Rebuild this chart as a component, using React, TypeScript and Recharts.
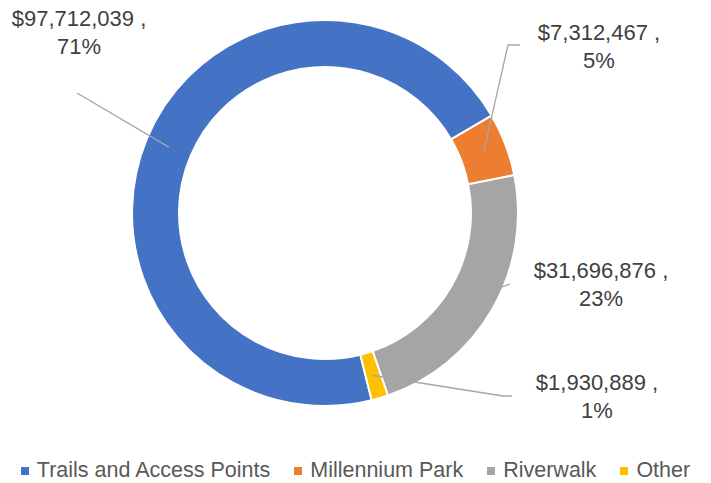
import React from "react";
import { PieChart, Pie, Cell, Legend } from "recharts";

document.body.style.margin = "0";

// Spending by project area
const categories = ["Trails and Access Points", "Millennium Park", "Riverwalk", "Other"];
const amounts = [97712039, 7312467, 31696876, 1930889];
const percentLabels = ["71%", "5%", "23%", "1%"];
const colors = ["#4472C4", "#ED7D31", "#A5A5A5", "#FFC000"];

const data = categories.map((name, i) => ({ name, value: amounts[i] }));

// where each data label sits, and the elbow of its leader line
const LABEL_POS = [
  { x: 79, y: 26, line: [[77, 93]] },
  { x: 599, y: 40, line: [[520, 45], [508, 45]] },
  { x: 601, y: 278, line: [[510, 284]] },
  { x: 597, y: 390, line: [[512, 396], [503, 396]] },
];

const RAD = Math.PI / 180;
const FONT = "'Liberation Sans', Arial, sans-serif";

const fmt = (v: number) => "$" + v.toLocaleString("en-US");

const renderLabel = (props: any) => {
  const { cx, cy, midAngle, innerRadius, outerRadius, index } = props;
  const pos = LABEL_POS[index];
  const r = (innerRadius + outerRadius) / 2;
  const ex = cx + r * Math.cos(-midAngle * RAD);
  const ey = cy + r * Math.sin(-midAngle * RAD);
  const pts = [...pos.line, [ex, ey]].map((p) => p.join(",")).join(" ");
  return (
    <g key={"lbl" + index}>
      <polyline points={pts} fill="none" stroke="#A6A6A6" strokeWidth={1.3} />
      <text x={pos.x} y={pos.y} textAnchor="middle" fill="#404040" fontSize={22} fontFamily={FONT}>
        {fmt(amounts[index]) + " ,"}
      </text>
      <text x={pos.x} y={pos.y + 28} textAnchor="middle" fill="#404040" fontSize={22} fontFamily={FONT}>
        {percentLabels[index]}
      </text>
    </g>
  );
};

const renderLegend = () => (
  <div
    style={{
      display: "flex",
      justifyContent: "center",
      alignItems: "center",
      fontFamily: FONT,
      fontSize: 21.5,
      color: "#595959",
    }}
  >
    {categories.map((c, i) => (
      <div key={c} style={{ display: "flex", alignItems: "center", marginRight: i < categories.length - 1 ? 24 : 0 }}>
        <span style={{ width: 8, height: 8, background: colors[i], marginRight: 8, display: "inline-block" }} />
        <span>{c}</span>
      </div>
    ))}
  </div>
);

export default function App() {
  return (
    <PieChart width={711} height={483} margin={{ top: 0, right: 0, bottom: 0, left: 0 }}>
      <Pie
        data={data}
        dataKey="value"
        nameKey="name"
        cx={325}
        cy={213}
        innerRadius={146}
        outerRadius={193}
        startAngle={-76}
        endAngle={-436}
        stroke="#ffffff"
        strokeWidth={2}
        label={renderLabel}
        labelLine={false}
        isAnimationActive={false}
      >
        {data.map((d, i) => (
          <Cell key={d.name} fill={colors[i]} />
        ))}
      </Pie>
      <Legend content={renderLegend} wrapperStyle={{ top: 458, left: 0, width: 711 }} />
    </PieChart>
  );
}
